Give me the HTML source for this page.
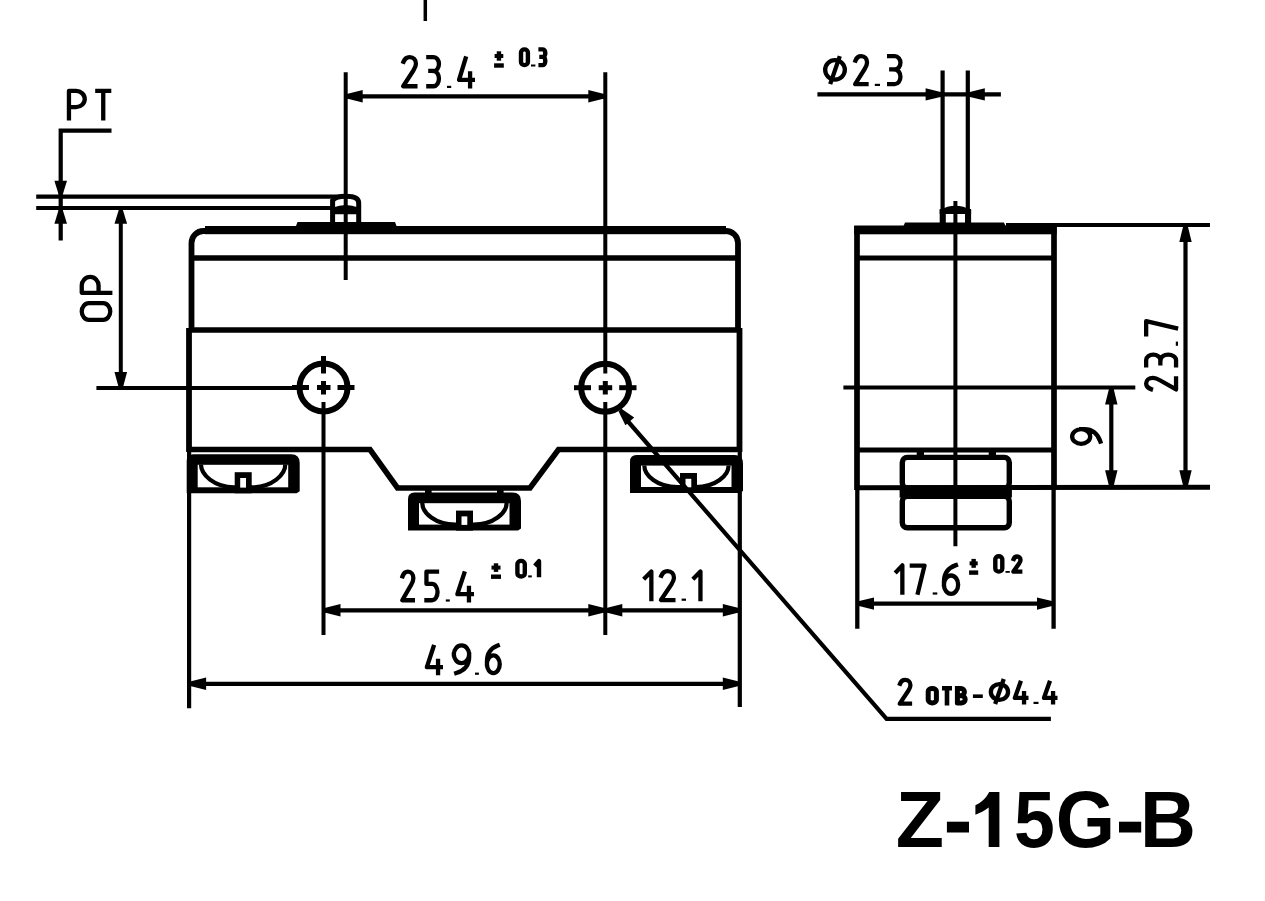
<!DOCTYPE html>
<html><head><meta charset="utf-8"><title>Z-15G-B</title>
<style>html,body{margin:0;padding:0;background:#fff;} svg{display:block;}</style></head>
<body><svg width="1265" height="901" viewBox="0 0 1265 901" stroke="#000" fill="none">
<rect x="0" y="0" width="1265" height="901" fill="#fff" stroke="none"/>
<line x1="425.30" y1="0.00" x2="425.30" y2="21.00" stroke-width="3.5" stroke-linecap="butt"/>
<line x1="36.20" y1="196.70" x2="342.00" y2="196.70" stroke-width="4.2" stroke-linecap="butt"/>
<line x1="36.20" y1="208.00" x2="331.00" y2="208.00" stroke-width="4.2" stroke-linecap="butt"/>
<path d="M111.5,130.6 L60.7,130.6 L60.7,240.6" stroke-width="4.2" fill="none" stroke-linejoin="miter"/>
<polygon points="58.70,194.80 54.40,180.80 67.00,180.80 62.70,194.80" fill="#000" stroke="none"/>
<polygon points="62.70,209.80 67.00,223.80 54.40,223.80 58.70,209.80" fill="#000" stroke="none"/>
<line x1="120.80" y1="222.00" x2="120.80" y2="374.00" stroke-width="4.0" stroke-linecap="butt"/>
<polygon points="122.80,209.80 127.10,223.80 114.50,223.80 118.80,209.80" fill="#000" stroke="none"/>
<polygon points="118.80,388.00 114.50,372.00 127.10,372.00 122.80,388.00" fill="#000" stroke="none"/>
<line x1="96.40" y1="388.00" x2="292.00" y2="388.00" stroke-width="4.0" stroke-linecap="butt"/>
<path d="M191.5,331 L191.5,243 A12,12 0 0 1 203.5,231 L726,231 A12,12 0 0 1 738,243 L738,331" stroke-width="5.8" fill="none" />
<rect x="205.00" y="226.00" width="521.00" height="8.20" rx="0" fill="#000" stroke="none"/>
<polygon points="293.00,234.00 297.50,222.00 395.00,222.00 399.50,234.00" fill="#000" stroke="none"/>
<line x1="191.50" y1="258.00" x2="738.00" y2="258.00" stroke-width="5.5" stroke-linecap="butt"/>
<line x1="189.00" y1="329.90" x2="739.50" y2="329.90" stroke-width="5.5" stroke-linecap="butt"/>
<line x1="189.00" y1="328.00" x2="189.00" y2="452.00" stroke-width="5.8" stroke-linecap="butt"/>
<line x1="739.50" y1="328.00" x2="739.50" y2="452.00" stroke-width="5.8" stroke-linecap="butt"/>
<path d="M189,449.5 L370,449.5 L397.5,488 L530,488 L558.5,449.5 L739.5,449.5" stroke-width="5.6" fill="none" stroke-linejoin="miter"/>
<path d="M332.6,223 L332.6,200.5 Q336,196.3 345.7,196.3 Q358.7,196.3 358.7,203 L358.7,223" stroke-width="5.0" fill="none" stroke-linejoin="miter"/>
<path d="M333,214.2 L333,207.5 Q345.7,202.5 358.5,207.5 L358.5,214.2 Z" stroke-width="0" fill="#000" stroke="none"/>
<line x1="345.70" y1="72.20" x2="345.70" y2="280.00" stroke-width="4.0" stroke-linecap="butt"/>
<line x1="605.30" y1="72.20" x2="605.30" y2="373.50" stroke-width="4.0" stroke-linecap="butt"/>
<line x1="605.30" y1="381.00" x2="605.30" y2="394.50" stroke-width="5.0" stroke-linecap="butt"/>
<line x1="605.30" y1="402.00" x2="605.30" y2="635.00" stroke-width="4.0" stroke-linecap="butt"/>
<line x1="574.00" y1="387.70" x2="591.00" y2="387.70" stroke-width="5.0" stroke-linecap="butt"/>
<line x1="598.70" y1="387.70" x2="612.20" y2="387.70" stroke-width="5.0" stroke-linecap="butt"/>
<line x1="619.20" y1="387.70" x2="636.50" y2="387.70" stroke-width="5.0" stroke-linecap="butt"/>
<line x1="323.50" y1="356.00" x2="323.50" y2="373.50" stroke-width="5.0" stroke-linecap="butt"/>
<line x1="323.50" y1="381.00" x2="323.50" y2="394.50" stroke-width="5.0" stroke-linecap="butt"/>
<line x1="323.50" y1="402.00" x2="323.50" y2="635.00" stroke-width="4.0" stroke-linecap="butt"/>
<line x1="292.00" y1="387.50" x2="309.00" y2="387.50" stroke-width="5.0" stroke-linecap="butt"/>
<line x1="317.00" y1="387.50" x2="330.50" y2="387.50" stroke-width="5.0" stroke-linecap="butt"/>
<line x1="337.50" y1="387.50" x2="354.50" y2="387.50" stroke-width="5.0" stroke-linecap="butt"/>
<circle cx="323.5" cy="387.5" r="24" stroke-width="6" fill="none"/>
<circle cx="605.2" cy="387.7" r="24" stroke-width="6" fill="none"/>
<path d="M186.70,493.30 L186.70,460.70 Q186.70,454.20 193.20,454.20 L291.20,454.20 Q299.70,454.20 299.70,462.70 L299.70,491.30 L296.70,493.30 Z" fill="#000" stroke="none"/>
<rect x="197.70" y="464.80" width="90.50" height="22.50" rx="0" fill="#fff" stroke="none"/>
<path d="M201.00,464.60 C201.00,474.60 214.00,487.30 234.00,487.30 L252.30,487.30 C272.30,487.30 285.30,474.60 285.30,464.60" stroke-width="4.2" fill="none"/>
<rect x="234.70" y="472.20" width="17.00" height="21.10" rx="0" fill="#000" stroke="none"/>
<rect x="240.20" y="478.00" width="5.80" height="9.60" rx="0" fill="#fff" stroke="none"/>
<path d="M408.00,530.60 L408.00,499.10 Q408.00,492.60 414.50,492.60 L512.50,492.60 Q521.00,492.60 521.00,501.10 L521.00,528.60 L518.00,530.60 Z" fill="#000" stroke="none"/>
<rect x="419.00" y="503.20" width="90.50" height="21.40" rx="0" fill="#fff" stroke="none"/>
<path d="M422.30,503.00 C422.30,513.00 435.30,524.60 455.30,524.60 L473.60,524.60 C493.60,524.60 506.60,513.00 506.60,503.00" stroke-width="4.2" fill="none"/>
<rect x="456.00" y="510.60" width="17.00" height="20.00" rx="0" fill="#000" stroke="none"/>
<rect x="461.50" y="516.40" width="5.80" height="8.50" rx="0" fill="#fff" stroke="none"/>
<path d="M630.00,493.00 L630.00,461.50 Q630.00,455.00 636.50,455.00 L734.50,455.00 Q743.00,455.00 743.00,463.50 L743.00,491.00 L740.00,493.00 Z" fill="#000" stroke="none"/>
<rect x="641.00" y="465.60" width="90.50" height="21.40" rx="0" fill="#fff" stroke="none"/>
<path d="M644.30,465.40 C644.30,475.40 657.30,487.00 677.30,487.00 L695.60,487.00 C715.60,487.00 728.60,475.40 728.60,465.40" stroke-width="4.2" fill="none"/>
<rect x="680.00" y="473.00" width="17.00" height="20.00" rx="0" fill="#000" stroke="none"/>
<rect x="685.50" y="478.80" width="5.80" height="8.50" rx="0" fill="#fff" stroke="none"/>
<rect x="425.00" y="488.00" width="6.60" height="6.00" rx="0" fill="#000" stroke="none"/>
<rect x="497.00" y="488.00" width="6.60" height="6.00" rx="0" fill="#000" stroke="none"/>
<line x1="189.10" y1="450.00" x2="189.10" y2="708.20" stroke-width="4.2" stroke-linecap="butt"/>
<line x1="739.80" y1="450.00" x2="739.80" y2="707.00" stroke-width="4.2" stroke-linecap="butt"/>
<line x1="345.70" y1="96.30" x2="605.30" y2="96.30" stroke-width="4.2" stroke-linecap="butt"/>
<polygon points="345.70,94.30 362.70,90.10 362.70,102.50 345.70,98.30" fill="#000" stroke="none"/>
<polygon points="605.30,98.30 588.30,102.50 588.30,90.10 605.30,94.30" fill="#000" stroke="none"/>
<line x1="323.50" y1="610.30" x2="739.80" y2="610.30" stroke-width="4.2" stroke-linecap="butt"/>
<polygon points="323.50,608.30 340.50,604.10 340.50,616.50 323.50,612.30" fill="#000" stroke="none"/>
<polygon points="605.30,612.30 588.30,616.50 588.30,604.10 605.30,608.30" fill="#000" stroke="none"/>
<polygon points="605.30,608.30 622.30,604.10 622.30,616.50 605.30,612.30" fill="#000" stroke="none"/>
<polygon points="739.80,612.30 722.80,616.50 722.80,604.10 739.80,608.30" fill="#000" stroke="none"/>
<line x1="189.10" y1="683.80" x2="739.80" y2="683.80" stroke-width="4.2" stroke-linecap="butt"/>
<polygon points="189.10,681.80 206.10,677.60 206.10,690.00 189.10,685.80" fill="#000" stroke="none"/>
<polygon points="739.80,685.80 722.80,690.00 722.80,677.60 739.80,681.80" fill="#000" stroke="none"/>
<path d="M625,418 L886.6,718.9 L1050.9,718.9" stroke-width="4.2" fill="none" stroke-linejoin="miter"/>
<polygon points="621.51,408.69 634.19,417.57 625.41,425.15 618.49,411.31" fill="#000" stroke="none"/>
<line x1="857.00" y1="226.00" x2="857.00" y2="490.00" stroke-width="5.7" stroke-linecap="butt"/>
<line x1="1054.00" y1="226.00" x2="1054.00" y2="490.00" stroke-width="5.7" stroke-linecap="butt"/>
<line x1="857.30" y1="488.00" x2="857.30" y2="628.70" stroke-width="4.3" stroke-linecap="butt"/>
<line x1="1053.60" y1="488.00" x2="1053.60" y2="628.70" stroke-width="4.3" stroke-linecap="butt"/>
<rect x="854.20" y="225.50" width="202.40" height="8.80" rx="0" fill="#000" stroke="none"/>
<polygon points="900.00,234.00 905.00,222.60 1004.00,222.60 1009.00,234.00" fill="#000" stroke="none"/>
<line x1="942.60" y1="70.40" x2="942.60" y2="222.00" stroke-width="4.2" stroke-linecap="butt"/>
<line x1="967.80" y1="70.40" x2="967.80" y2="222.00" stroke-width="4.2" stroke-linecap="butt"/>
<path d="M939.7,214 L939.7,210 Q955.5,201.5 971.1,210 L971.1,214 Z" stroke-width="0" fill="#000" stroke="none"/>
<rect x="939.70" y="209.00" width="6.10" height="14.00" rx="0" fill="#000" stroke="none"/>
<rect x="965.00" y="209.00" width="6.10" height="14.00" rx="0" fill="#000" stroke="none"/>
<line x1="955.40" y1="201.00" x2="955.40" y2="546.30" stroke-width="4.0" stroke-linecap="butt"/>
<line x1="857.00" y1="258.00" x2="1054.00" y2="258.00" stroke-width="5.2" stroke-linecap="butt"/>
<line x1="857.00" y1="450.00" x2="1054.00" y2="450.00" stroke-width="5.2" stroke-linecap="butt"/>
<line x1="857.00" y1="487.70" x2="1210.00" y2="487.30" stroke-width="5.0" stroke-linecap="butt"/>
<line x1="1006.00" y1="225.00" x2="1210.00" y2="225.00" stroke-width="4.2" stroke-linecap="butt"/>
<line x1="843.40" y1="387.60" x2="1135.30" y2="387.60" stroke-width="4.0" stroke-linecap="butt"/>
<rect x="902.3" y="457.4" width="107" height="30.6" rx="5" stroke-width="5.4" fill="none"/>
<rect x="902.3" y="496.2" width="107" height="31.5" rx="5" stroke-width="5.4" fill="none"/>
<rect x="899.60" y="487.70" width="112.30" height="9.80" rx="0" fill="#000" stroke="none"/>
<rect x="916.70" y="450.00" width="7.30" height="7.00" rx="0" fill="#000" stroke="none"/>
<rect x="988.70" y="450.00" width="7.30" height="7.00" rx="0" fill="#000" stroke="none"/>
<line x1="817.40" y1="94.40" x2="1000.90" y2="94.40" stroke-width="4.2" stroke-linecap="butt"/>
<polygon points="942.60,96.40 925.60,100.60 925.60,88.20 942.60,92.40" fill="#000" stroke="none"/>
<polygon points="967.80,92.40 984.80,88.20 984.80,100.60 967.80,96.40" fill="#000" stroke="none"/>
<line x1="857.00" y1="603.60" x2="1054.00" y2="603.60" stroke-width="4.2" stroke-linecap="butt"/>
<polygon points="857.00,601.60 874.00,597.40 874.00,609.80 857.00,605.60" fill="#000" stroke="none"/>
<polygon points="1054.00,605.60 1037.00,609.80 1037.00,597.40 1054.00,601.60" fill="#000" stroke="none"/>
<line x1="1185.50" y1="225.00" x2="1185.50" y2="487.30" stroke-width="4.2" stroke-linecap="butt"/>
<polygon points="1187.50,225.00 1191.70,242.00 1179.30,242.00 1183.50,225.00" fill="#000" stroke="none"/>
<polygon points="1183.50,487.30 1179.30,470.30 1191.70,470.30 1187.50,487.30" fill="#000" stroke="none"/>
<line x1="1111.30" y1="387.60" x2="1111.30" y2="487.30" stroke-width="4.2" stroke-linecap="butt"/>
<polygon points="1113.30,387.60 1117.50,404.60 1105.10,404.60 1109.30,387.60" fill="#000" stroke="none"/>
<polygon points="1109.30,487.30 1105.10,470.30 1117.50,470.30 1113.30,487.30" fill="#000" stroke="none"/>
<path d="M 68.95,118.45 L 68.95,90.95 L 76.13,90.95 A 8.62,8.11 0 0 1 76.13,107.17 L 68.95,107.17" stroke-width="4.3" fill="none" stroke-linejoin="round" stroke-linecap="square"/>
<path d="M 97.35,90.95 L 109.15,90.95 M 103.25,90.95 L 103.25,118.45" stroke-width="4.3" fill="none" stroke-linejoin="round" stroke-linecap="square"/>
<path d="M 403.43,61.81 C 404.57,58.60 406.85,57.15 409.69,57.15 C 413.53,57.15 415.95,59.91 415.95,63.84 C 415.95,66.32 414.95,68.21 413.39,70.54 L 403.15,86.25 L 415.38,86.25" stroke-width="4.3" fill="none" stroke-linejoin="round" stroke-linecap="square"/>
<path d="M 428.35,57.15 L 433.65,57.15 A 5.30,6.91 0 0 1 433.65,70.97 L 430.34,70.97 M 433.65,70.97 A 5.30,7.64 0 0 1 433.65,86.25 L 428.35,86.25" stroke-width="4.3" fill="none" stroke-linejoin="round" stroke-linecap="square"/>
<rect x="447.00" y="85.80" width="4.20" height="2.20" rx="0" fill="#000" stroke="none"/>
<path d="M 465.54,58.51 L 459.05,79.96 L 472.85,79.96 M 470.09,73.38 L 470.09,86.25" stroke-width="4.3" fill="none" stroke-linejoin="round" stroke-linecap="square"/>
<rect x="494.10" y="63.30" width="9.70" height="4.40" rx="0" fill="#000" stroke="none"/>
<rect x="496.75" y="51.30" width="4.40" height="9.40" rx="0" fill="#000" stroke="none"/>
<rect x="494.60" y="54.02" width="8.70" height="3.96" rx="0" fill="#000" stroke="none"/>
<path d="M 521.00,52.54 A 3.45,3.14 0 0 1 527.90,52.54 L 527.90,61.96 A 3.45,3.14 0 0 1 521.00,61.96 Z" stroke-width="4.4" fill="none" stroke-linejoin="round" stroke-linecap="square"/>
<rect x="531.00" y="64.50" width="4.40" height="2.00" rx="0" fill="#000" stroke="none"/>
<path d="M 540.60,49.40 L 542.95,49.40 A 2.35,3.73 0 0 1 542.95,56.86 L 541.48,56.86 M 542.95,56.86 A 2.35,4.12 0 0 1 542.95,65.10 L 540.60,65.10" stroke-width="4.4" fill="none" stroke-linejoin="round" stroke-linecap="square"/>
<ellipse cx="835.00" cy="69.85" rx="9.85" ry="9.70" stroke-width="4.3" fill="none"/>
<line x1="830.20" y1="84.10" x2="839.80" y2="56.10" stroke-width="4.3" stroke-linecap="butt"/>
<path d="M 855.41,60.63 C 856.47,57.55 858.59,56.15 861.23,56.15 C 864.80,56.15 867.05,58.81 867.05,62.59 C 867.05,64.97 866.12,66.79 864.67,69.03 L 855.15,84.15 L 866.52,84.15" stroke-width="4.3" fill="none" stroke-linejoin="round" stroke-linecap="square"/>
<rect x="874.80" y="83.80" width="5.20" height="2.20" rx="0" fill="#000" stroke="none"/>
<path d="M 889.15,56.15 L 894.80,56.15 A 5.65,6.65 0 0 1 894.80,69.45 L 891.27,69.45 M 894.80,69.45 A 5.65,7.35 0 0 1 894.80,84.15 L 889.15,84.15" stroke-width="4.3" fill="none" stroke-linejoin="round" stroke-linecap="square"/>
<path d="M 402.50,576.23 C 403.48,573.08 405.46,571.65 407.92,571.65 C 411.25,571.65 413.35,574.37 413.35,578.23 C 413.35,580.66 412.49,582.52 411.13,584.81 L 402.25,600.25 L 412.86,600.25" stroke-width="4.3" fill="none" stroke-linejoin="round" stroke-linecap="square"/>
<path d="M 436.99,571.65 L 426.45,571.65 L 426.45,583.95 L 432.00,583.95 A 5.55,8.15 0 0 1 432.00,600.25 L 426.45,600.25" stroke-width="4.3" fill="none" stroke-linejoin="round" stroke-linecap="square"/>
<rect x="445.80" y="599.40" width="4.00" height="2.20" rx="0" fill="#000" stroke="none"/>
<path d="M 464.16,573.48 L 457.35,594.18 L 471.85,594.18 M 468.95,587.83 L 468.95,600.25" stroke-width="4.3" fill="none" stroke-linejoin="round" stroke-linecap="square"/>
<rect x="491.00" y="574.50" width="10.00" height="4.40" rx="0" fill="#000" stroke="none"/>
<rect x="493.80" y="563.30" width="4.40" height="8.60" rx="0" fill="#000" stroke="none"/>
<rect x="491.50" y="565.62" width="9.00" height="3.96" rx="0" fill="#000" stroke="none"/>
<path d="M 517.40,564.02 A 3.70,3.12 0 0 1 524.80,564.02 L 524.80,573.38 A 3.70,3.12 0 0 1 517.40,573.38 Z" stroke-width="4.4" fill="none" stroke-linejoin="round" stroke-linecap="square"/>
<rect x="528.20" y="575.40" width="3.60" height="2.00" rx="0" fill="#000" stroke="none"/>
<path d="M 536.30,564.31 L 539.00,561.20 L 539.00,575.00" stroke-width="4.4" fill="none" stroke-linejoin="round" stroke-linecap="square"/>
<path d="M 645.15,577.66 L 651.35,571.45 L 651.35,599.05" stroke-width="4.3" fill="none" stroke-linejoin="round" stroke-linecap="square"/>
<path d="M 661.24,575.77 C 662.39,572.60 664.71,571.15 667.59,571.15 C 671.49,571.15 673.95,573.90 673.95,577.80 C 673.95,580.25 672.94,582.13 671.35,584.44 L 660.95,600.05 L 673.37,600.05" stroke-width="4.3" fill="none" stroke-linejoin="round" stroke-linecap="square"/>
<rect x="681.60" y="598.60" width="4.40" height="2.20" rx="0" fill="#000" stroke="none"/>
<path d="M 694.35,577.66 L 700.45,571.45 L 700.45,599.05" stroke-width="4.3" fill="none" stroke-linejoin="round" stroke-linecap="square"/>
<path d="M 433.43,646.96 L 426.85,667.13 L 440.85,667.13 M 438.05,660.95 L 438.05,673.05" stroke-width="4.3" fill="none" stroke-linejoin="round" stroke-linecap="square"/>
<path d="M 453.85,654.28 A 7.65,8.83 0 1 1 469.15,654.28 A 7.65,8.83 0 1 1 453.85,654.28 M 469.15,654.28 L 469.15,657.18 C 469.15,665.46 464.05,670.57 456.23,673.05" stroke-width="4.3" fill="none" stroke-linejoin="round" stroke-linecap="square"/>
<rect x="475.00" y="672.60" width="3.90" height="2.20" rx="0" fill="#000" stroke="none"/>
<path d="M 486.95,664.22 A 6.40,8.83 0 1 0 499.75,664.22 A 6.40,8.83 0 1 0 486.95,664.22 M 486.95,664.22 L 486.95,661.32 C 486.95,653.04 491.22,647.93 497.76,645.45" stroke-width="4.3" fill="none" stroke-linejoin="round" stroke-linecap="square"/>
<path d="M 896.65,571.49 L 902.35,565.35 L 902.35,592.65" stroke-width="4.3" fill="none" stroke-linejoin="round" stroke-linecap="square"/>
<path d="M 911.85,565.55 L 924.55,565.55 L 917.92,592.65" stroke-width="4.3" fill="none" stroke-linejoin="round" stroke-linecap="square"/>
<rect x="932.70" y="592.40" width="4.60" height="2.20" rx="0" fill="#000" stroke="none"/>
<path d="M 943.95,584.67 A 7.10,9.18 0 1 0 958.15,584.67 A 7.10,9.18 0 1 0 943.95,584.67 M 943.95,584.67 L 943.95,581.65 C 943.95,573.04 948.68,567.73 955.94,565.15" stroke-width="4.3" fill="none" stroke-linejoin="round" stroke-linecap="square"/>
<rect x="969.10" y="570.40" width="9.10" height="4.40" rx="0" fill="#000" stroke="none"/>
<rect x="971.45" y="558.90" width="4.40" height="8.90" rx="0" fill="#000" stroke="none"/>
<rect x="969.60" y="561.37" width="8.10" height="3.96" rx="0" fill="#000" stroke="none"/>
<path d="M 995.30,559.28 A 3.50,3.08 0 0 1 1002.30,559.28 L 1002.30,568.52 A 3.50,3.08 0 0 1 995.30,568.52 Z" stroke-width="4.4" fill="none" stroke-linejoin="round" stroke-linecap="square"/>
<rect x="1005.50" y="571.00" width="4.30" height="1.80" rx="0" fill="#000" stroke="none"/>
<path d="M 1013.66,558.92 C 1014.28,557.25 1015.52,556.50 1017.08,556.50 C 1019.18,556.50 1020.50,557.93 1020.50,559.97 C 1020.50,561.26 1019.96,562.24 1019.10,563.45 L 1013.50,571.60 L 1020.19,571.60" stroke-width="4.4" fill="none" stroke-linejoin="round" stroke-linecap="square"/>
<path d="M 899.99,683.66 C 900.94,681.04 902.84,679.85 905.22,679.85 C 908.43,679.85 910.45,682.11 910.45,685.32 C 910.45,687.35 909.62,688.89 908.31,690.80 L 899.75,703.65 L 909.97,703.65" stroke-width="4.3" fill="none" stroke-linejoin="round" stroke-linecap="square"/>
<path d="M 928.20,691.30 A 4.10,2.90 0 0 1 936.40,691.30 L 936.40,700.00 A 4.10,2.90 0 0 1 928.20,700.00 Z" stroke-width="5.0" fill="none" stroke-linejoin="round" stroke-linecap="square"/>
<path d="M 944.30,688.20 L 949.70,688.20 M 947.00,688.20 L 947.00,703.10" stroke-width="4.6" fill="none" stroke-linejoin="round" stroke-linecap="square"/>
<path d="M 957.40,688.40 L 957.40,702.90 L 961.30,702.90 A 3.90,3.62 0 0 0 961.30,695.65 L 957.40,695.65 M 957.40,688.40 L 960.91,688.40 A 3.51,3.62 0 0 1 960.91,695.65" stroke-width="5.0" fill="none" stroke-linejoin="round" stroke-linecap="square"/>
<rect x="972.90" y="694.40" width="9.90" height="3.60" rx="0" fill="#000" stroke="none"/>
<ellipse cx="999.45" cy="692.00" rx="8.60" ry="7.85" stroke-width="4.3" fill="none"/>
<line x1="995.15" y1="704.00" x2="1003.75" y2="679.00" stroke-width="4.3" stroke-linecap="butt"/>
<path d="M 1020.25,682.76 L 1014.85,697.91 L 1026.35,697.91 M 1024.05,693.26 L 1024.05,702.35" stroke-width="4.3" fill="none" stroke-linejoin="round" stroke-linecap="square"/>
<rect x="1033.50" y="701.80" width="5.00" height="2.20" rx="0" fill="#000" stroke="none"/>
<path d="M 1049.31,682.76 L 1043.95,697.91 L 1055.35,697.91 M 1053.07,693.26 L 1053.07,702.35" stroke-width="4.3" fill="none" stroke-linejoin="round" stroke-linecap="square"/>
<g transform="rotate(-90)">
<path d="M -319.85,88.88 A 8.35,7.13 0 0 1 -303.15,88.88 L -303.15,103.12 A 8.35,7.13 0 0 1 -319.85,103.12 Z" stroke-width="4.3" fill="none" stroke-linejoin="round" stroke-linecap="square"/>
<path d="M -292.85,110.25 L -292.85,81.75 L -285.58,81.75 A 8.73,8.41 0 0 1 -285.58,98.57 L -292.85,98.57" stroke-width="4.3" fill="none" stroke-linejoin="round" stroke-linecap="square"/>
<path d="M -389.19,1150.93 C -388.17,1147.64 -386.13,1146.15 -383.57,1146.15 C -380.12,1146.15 -377.95,1148.99 -377.95,1153.03 C -377.95,1155.57 -378.84,1157.51 -380.25,1159.90 L -389.45,1176.05 L -378.46,1176.05" stroke-width="4.3" fill="none" stroke-linejoin="round" stroke-linecap="square"/>
<path d="M -365.25,1146.15 L -359.95,1146.15 A 5.30,7.10 0 0 1 -359.95,1160.35 L -363.26,1160.35 M -359.95,1160.35 A 5.30,7.85 0 0 1 -359.95,1176.05 L -365.25,1176.05" stroke-width="4.3" fill="none" stroke-linejoin="round" stroke-linecap="square"/>
<rect x="-345.80" y="1175.80" width="4.20" height="2.20" rx="0" fill="#000" stroke="none"/>
<path d="M -334.45,1146.15 L -321.15,1146.15 L -328.10,1176.05" stroke-width="4.3" fill="none" stroke-linejoin="round" stroke-linecap="square"/>
<path d="M -443.85,1081.17 A 7.35,9.02 0 1 1 -429.15,1081.17 A 7.35,9.02 0 1 1 -443.85,1081.17 M -429.15,1081.17 L -429.15,1084.13 C -429.15,1092.60 -434.05,1097.81 -441.56,1100.35" stroke-width="4.3" fill="none" stroke-linejoin="round" stroke-linecap="square"/>
</g>
<text transform="translate(895.80,847) scale(1.0,1)" x="0" y="0" font-family="Liberation Sans, sans-serif" font-weight="bold" font-size="79" fill="#000" stroke="none">Z</text>
<text transform="translate(1013.88,847) scale(0.93,1)" x="0" y="0" font-family="Liberation Sans, sans-serif" font-weight="bold" font-size="79" fill="#000" stroke="none">5</text>
<text transform="translate(1055.73,847) scale(0.965,1)" x="0" y="0" font-family="Liberation Sans, sans-serif" font-weight="bold" font-size="79" fill="#000" stroke="none">G</text>
<text transform="translate(1140.12,847) scale(0.98,1)" x="0" y="0" font-family="Liberation Sans, sans-serif" font-weight="bold" font-size="79" fill="#000" stroke="none">B</text>
<rect x="946.90" y="821.70" width="22.10" height="10.80" rx="0" fill="#000" stroke="none"/>
<rect x="1119.00" y="821.70" width="22.20" height="10.80" rx="0" fill="#000" stroke="none"/>
<path d="M999.4,792 L999.4,847 L988.7,847 L988.7,807.6 C984.5,810.8 980,813.2 975.4,814.8 L975.4,805.3 C980.5,803 986,798.5 989.2,792 Z" stroke-width="0" fill="#000" stroke="none"/>
</svg></body></html>
